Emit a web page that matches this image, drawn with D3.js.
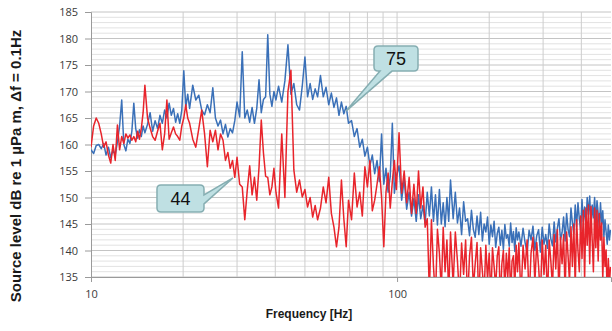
<!DOCTYPE html>
<html>
<head>
<meta charset="utf-8">
<script src="https://cdn.jsdelivr.net/npm/d3@7"></script>
<style>
  body { margin: 0; background: #fff; }
  svg { display: block; }
  .tick-label { font-family: "Open Sans", "DejaVu Sans", sans-serif; font-size: 11px; fill: #3a3a3a; }
  .axis-title { font-family: "Liberation Sans", Arial, sans-serif; font-weight: bold; fill: #1a1a1a; }
</style>
</head>
<body>
<svg id="chart" width="612" height="331"></svg>
<script>
// Frequencies [Hz] shared by both spectra
const frequencies = [
  10.0, 10.2, 10.4, 10.6, 10.8, 11.0, 11.2, 11.4, 11.6, 11.8, 12.0, 12.2, 12.4, 12.6, 12.8, 13.0, 13.2, 13.4, 13.6, 13.8, 14.0, 14.2, 14.4, 14.6, 14.8, 15.0,
  15.3, 15.6, 15.9, 16.2, 16.5, 16.8, 17.1, 17.4, 17.7, 18.0, 18.3, 18.6, 18.9, 19.2, 19.5, 19.8, 20.1, 20.4, 20.7, 21.0,
  21.5, 22, 22.5, 23, 23.5, 24, 24.5, 25, 25.5, 26, 26.5, 27, 27.5, 28, 28.5, 29, 29.5, 30,
  30.6, 31.2, 31.8, 32.4, 33, 33.6, 34.2, 34.8, 35.4, 36, 36.6, 37.2, 37.8, 38.4, 39, 39.6, 40.2,
  41, 42, 43, 44, 45, 46, 47, 48, 49, 50, 51, 52, 53, 54, 55,
  56.2, 57.4, 58.6, 59.8, 61, 62.2, 63.4, 64.6, 65.8, 67, 68.2, 69.4,
  71, 72.5, 74, 75.5, 77, 78.5, 80, 81.5, 83, 84.5, 86, 87.5, 89, 90.5, 92, 93.5, 95, 96.5, 98, 99.5,
  101.5, 103.5, 105.5, 107.5, 109.5, 111.5, 113.5, 115.5, 117.5, 119.5, 121.5, 123.5, 125.5, 127.5, 129.5, 131.5, 133.5, 135.5, 137.5, 139.5, 141.5, 143.5, 145.5, 147.5, 149.5,
  152.5, 155, 157.5, 160, 162.5, 165, 167.5, 170, 172.5, 175, 177.5, 180, 182.5, 185, 187.5, 190, 192.5, 195, 197.5, 200,
  202.5, 205, 207.5, 210, 212.5, 215, 217.5, 220, 222.5, 225, 227.5, 230, 232.5, 235, 237.5, 240, 242.5, 245, 247.5, 250,
  254, 258, 262, 266, 270, 274, 278, 282, 286, 290, 294, 298, 302, 306, 310, 314, 318, 322, 326, 330, 334,
  338, 342, 346, 350, 354, 358, 362, 366, 370, 374, 378, 382, 386, 390, 394, 398, 402, 406, 410, 414, 418,
  422, 426, 430, 434, 438, 442, 446, 450, 454, 458, 462, 466, 470, 474, 478, 482, 486, 490, 494, 498
];

// Source level [dB] of the vessel at speed 75 (blue)
const level75 = [
  159.0, 158.3, 159.8, 160.0, 159.2, 160.2, 158.0, 159.5, 157.5, 159.0, 158.0, 160.5, 163.5, 168.4, 160.0, 158.8, 161.0, 160.2, 162.5, 167.8, 163.0, 161.2, 162.8, 161.5, 163.5, 162.2,
  163.8, 166.0, 162.5, 164.5, 163.0, 165.5, 164.0, 166.5, 165.0, 167.8, 165.5, 166.8, 164.2, 165.8, 164.0, 166.5, 173.9, 167.0, 169.5, 166.8,
  171.2, 168.4, 169.3, 166.5, 165.6, 167.5, 166.0, 170.7, 165.0, 163.5, 164.6, 162.0, 163.8, 161.4, 163.0, 162.2, 164.5, 168.0,
  165.2, 177.5, 165.0, 166.5, 164.2, 167.0, 164.0, 166.8, 172.2, 166.0, 168.5, 169.0, 180.7, 169.5, 167.2, 170.0, 168.4,
  171.0, 168.0, 172.0, 178.8, 169.5, 171.5, 167.5, 166.5, 171.0, 176.5, 169.0, 171.5, 168.5, 170.5, 169.0,
  173.0, 169.0, 170.8, 167.5, 169.7, 167.0, 168.8, 165.5, 168.0, 165.8, 167.2, 164.0,
  164.5, 161.5, 163.0, 159.5, 161.0, 157.8, 159.5, 156.0, 158.0, 154.5, 157.0, 153.0, 162.0, 152.5, 155.5, 151.0, 154.0, 164.0, 150.8, 154.0,
  156.0, 149.5, 153.5, 147.8, 151.0, 146.5, 149.8, 145.5, 150.5, 146.0, 148.5, 145.0, 151.0, 146.5, 152.0, 145.5, 150.5, 144.8, 151.5, 145.0, 149.0, 144.5, 150.0, 145.5, 153.3,
  146.0, 151.0, 145.2, 148.0, 143.0, 149.2, 145.5, 146.0, 142.8, 147.6, 144.0, 142.5, 146.5, 143.0, 147.2, 141.8, 145.0, 143.5, 146.3, 141.2,
  144.8, 142.6, 145.5, 140.6, 143.2, 144.4, 141.0, 143.8, 140.2, 144.9, 142.3, 143.0, 140.8, 145.2, 141.5, 143.6, 139.8, 144.3, 142.0, 143.5,
  140.8, 144.2, 141.5, 139.6, 143.8, 142.0, 144.6, 140.0, 142.8, 143.9, 139.7, 144.4, 141.2, 143.0, 140.4, 145.0, 142.2, 140.9, 145.4, 141.6, 144.2,
  146.0, 142.0, 143.4, 146.3, 141.8, 147.0, 144.0, 142.6, 148.0, 145.2, 143.2, 148.6, 144.5, 149.0, 146.0, 143.8, 149.6, 145.5, 148.2, 144.6, 150.0,
  146.8, 150.3, 144.8, 148.6, 146.2, 150.0, 145.2, 149.4, 147.0, 144.2, 149.0, 145.0, 147.5, 142.6, 145.8, 143.5, 141.2, 144.8, 142.0, 143.9
];

// Source level [dB] of the vessel at speed 44 (red)
const level44 = [
  159.5, 163.5, 165.0, 164.0, 162.0, 159.5, 160.5, 158.0, 156.5, 160.0, 157.0, 163.7, 159.0, 161.5, 160.2, 162.0, 161.2, 161.8, 160.8, 161.5, 160.5, 162.5, 161.0, 163.0, 166.0, 171.2,
  165.0, 163.1, 161.5, 160.8, 162.5, 164.0, 159.0, 162.0, 168.4, 161.0, 162.2, 163.3, 162.0, 161.5, 160.8, 163.5, 165.0, 167.5, 165.0, 164.0,
  161.0, 159.5, 163.0, 166.5, 162.0, 155.8, 162.7, 160.5, 162.7, 159.0, 162.0, 160.8, 157.0, 158.5, 155.5, 157.0, 153.8, 157.6,
  152.5, 152.0, 145.8, 151.4, 156.0, 150.5, 153.8, 149.5, 155.7, 164.6, 158.4, 154.0, 153.8, 150.5, 152.0, 155.5, 151.0,
  148.0, 162.0, 150.0, 170.0, 174.0, 155.2, 151.0, 153.3, 150.1, 151.5, 148.2, 150.0, 146.3, 148.5, 145.8,
  148.0, 152.0, 149.0, 153.8, 147.0, 144.4, 140.7, 144.4, 153.3, 146.0, 140.7, 149.5,
  145.8, 154.6, 148.2, 151.0, 146.5, 155.8, 152.0, 157.0, 147.5, 149.5, 152.5, 155.8, 150.0, 140.7, 151.0, 154.6, 148.0, 153.0, 157.0, 151.5,
  162.2, 150.8, 155.0, 149.0, 153.8, 147.0, 152.5, 147.0, 155.0, 148.0, 152.0, 144.4, 146.0, 132.0, 145.8, 137.0, 131.0, 144.0, 139.5, 132.5, 144.4, 136.0, 142.0, 131.5, 143.5,
  133.5, 143.5, 138.0, 131.0, 141.4, 135.5, 142.0, 130.5, 139.0, 142.5, 133.0, 137.5, 141.5, 130.0, 140.5, 136.0, 132.0, 141.0, 134.5, 139.5,
  131.0, 140.5, 137.0, 133.0, 139.0, 140.7, 130.5, 137.5, 140.0, 132.5, 139.5, 135.0, 140.5, 131.5, 138.0, 139.0, 133.0, 141.0, 136.0, 141.4,
  131.0, 141.0, 136.5, 142.0, 130.5, 139.5, 142.5, 134.0, 141.5, 137.0, 131.0, 142.0, 135.5, 141.0, 130.5, 142.0, 138.0, 133.0, 143.0, 136.5, 143.9,
  131.0, 142.5, 137.5, 143.0, 132.0, 143.5, 139.0, 134.0, 144.5, 137.0, 145.0, 133.0, 145.8, 140.0, 136.0, 146.5, 138.5, 147.6, 134.5, 148.0, 141.0,
  148.6, 137.5, 148.3, 142.0, 136.0, 148.0, 140.5, 147.6, 138.0, 147.0, 142.0, 145.2, 134.5, 142.5, 137.0, 140.1, 131.0, 138.5, 133.5, 136.9
];

const yTicks = [135, 140, 145, 150, 155, 160, 165, 170, 175, 180, 185];
const xTicks = [10, 100];
const xGridValues = [20, 30, 40, 50, 60, 70, 80, 90, 100, 200, 300, 400];

// Callouts: label, anchor frequency, anchor level
const calloutLabels = ['75', '44'];
const calloutFreqs = [68.1, 29.1];
const calloutLevels = [166.3, 153.7];

const margin = { top: 12, right: 1, bottom: 54, left: 91 };
const svg = d3.select('#chart');
const width = +svg.attr('width') - margin.left - margin.right;
const height = +svg.attr('height') - margin.top - margin.bottom;

const x = d3.scaleLog().domain([10, 500]).range([margin.left, margin.left + width]);
const y = d3.scaleLinear().domain([135, 185]).range([margin.top + height, margin.top]);

// Minor and major horizontal grid
svg.append('g')
    .selectAll('line')
    .data(d3.range(135, 186, 1).filter(v => v % 5 !== 0))
    .join('line')
    .attr('x1', margin.left).attr('x2', margin.left + width)
    .attr('y1', d => y(d)).attr('y2', d => y(d))
    .attr('stroke', '#e2e2e2').attr('stroke-width', 1);

svg.append('g')
    .selectAll('line')
    .data(yTicks)
    .join('line')
    .attr('x1', margin.left).attr('x2', margin.left + width)
    .attr('y1', d => y(d)).attr('y2', d => y(d))
    .attr('stroke', '#c4c4c4').attr('stroke-width', 1);

// Vertical grid
svg.append('g')
    .selectAll('line')
    .data(xGridValues)
    .join('line')
    .attr('x1', d => x(d)).attr('x2', d => x(d))
    .attr('y1', margin.top).attr('y2', margin.top + height)
    .attr('stroke', '#cdcdcd').attr('stroke-width', 1);

// Axes
const yAxis = d3.axisLeft(y).tickValues(yTicks).tickSize(6).tickPadding(7).tickFormat(d3.format('d'));
const yAxisG = svg.append('g')
    .attr('transform', `translate(${margin.left},0)`)
    .call(yAxis);
yAxisG.select('.domain').attr('stroke', '#9a9a9a');
yAxisG.selectAll('.tick line').attr('stroke', '#9a9a9a');
yAxisG.selectAll('.tick text').attr('class', 'tick-label');

const xAxis = d3.axisBottom(x).tickValues(xTicks).tickSize(5).tickPadding(8).tickFormat(d3.format('d'));
const xAxisG = svg.append('g')
    .attr('transform', `translate(0,${margin.top + height})`)
    .call(xAxis);
xAxisG.select('.domain').attr('stroke', '#9a9a9a');
xAxisG.selectAll('.tick line').attr('stroke', '#9a9a9a');
xAxisG.selectAll('.tick text').attr('class', 'tick-label');

// Spectra
svg.append('clipPath').attr('id', 'plot-clip')
    .append('rect')
    .attr('x', margin.left).attr('y', margin.top)
    .attr('width', width).attr('height', height);

const line = values => d3.line()
    .x((d, i) => x(frequencies[i]))
    .y(d => y(d))(values);

const plot = svg.append('g').attr('clip-path', 'url(#plot-clip)');
plot.append('path')
    .attr('d', line(level75))
    .attr('fill', 'none')
    .attr('stroke', '#3a70b8')
    .attr('stroke-width', 1.5)
    .attr('stroke-linejoin', 'round');
plot.append('path')
    .attr('d', line(level44))
    .attr('fill', 'none')
    .attr('stroke', '#e8242b')
    .attr('stroke-width', 1.5)
    .attr('stroke-linejoin', 'round');

// Callouts (box offsets relative to the anchor point)
const boxes = [
    { dx: 28, dy: -65, w: 44, h: 25, side: 'bottom', p1: 46, p2: 34 },
    { dx: -76, dy: 7, w: 47, h: 27, side: 'right', p1: 10, p2: 19 }
];
calloutLabels.forEach((label, i) => {
    const tx = x(calloutFreqs[i]);
    const ty = y(calloutLevels[i]);
    const b = boxes[i];
    const l = tx + b.dx, t = ty + b.dy, r = l + b.w, bt = t + b.h, rd = 4;
    let d;
    if (b.side === 'bottom') {
        d = `M${l + rd},${t} H${r - rd} Q${r},${t} ${r},${t + rd} V${bt - rd} Q${r},${bt} ${r - rd},${bt}` +
            ` H${tx + b.p1} L${tx},${ty} L${tx + b.p2},${bt}` +
            ` H${l + rd} Q${l},${bt} ${l},${bt - rd} V${t + rd} Q${l},${t} ${l + rd},${t} Z`;
    } else {
        d = `M${l + rd},${t} H${r - rd} Q${r},${t} ${r},${t + rd} V${t + b.p1} L${tx},${ty} L${r},${t + b.p2}` +
            ` V${bt - rd} Q${r},${bt} ${r - rd},${bt} H${l + rd} Q${l},${bt} ${l},${bt - rd} V${t + rd} Q${l},${t} ${l + rd},${t} Z`;
    }
    svg.append('path')
        .attr('d', d)
        .attr('fill', '#bfe0e3')
        .attr('stroke', '#86aeb2')
        .attr('stroke-width', 1.5);
    svg.append('text')
        .attr('x', (l + r) / 2)
        .attr('y', (t + bt) / 2)
        .attr('dy', '0.36em')
        .attr('text-anchor', 'middle')
        .style('font-family', '"Liberation Sans", Arial, sans-serif')
        .style('font-size', '18px')
        .style('fill', '#111')
        .text(label);
});

// Axis titles
svg.append('text')
    .attr('class', 'axis-title')
    .attr('transform', 'translate(21,166) rotate(-90)')
    .attr('text-anchor', 'middle')
    .style('font-size', '15px')
    .text('Source level dB re 1 µPa m, Δf = 0.1Hz');

svg.append('text')
    .attr('class', 'axis-title')
    .attr('x', 309)
    .attr('y', 318)
    .attr('text-anchor', 'middle')
    .style('font-size', '12px')
    .text('Frequency [Hz]');
</script>
</body>
</html>
